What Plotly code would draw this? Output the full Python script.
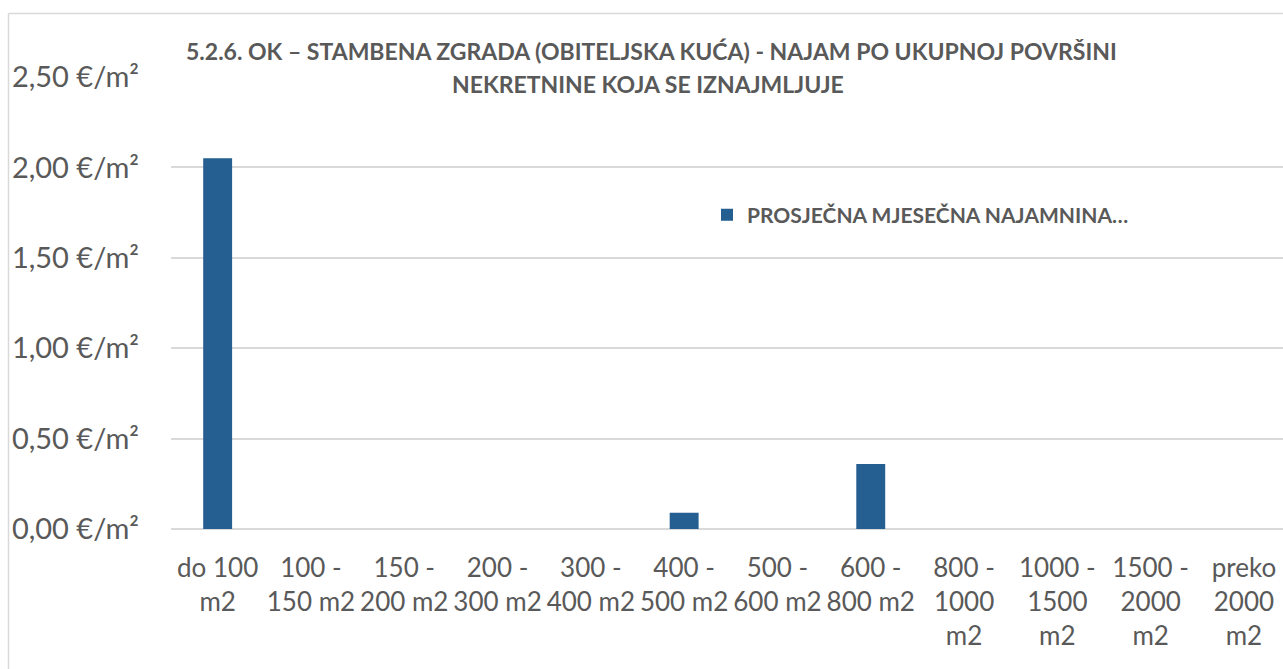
import plotly.graph_objects as go

categories = ["do 100<br>m2", "100 -<br>150 m2", "150 -<br>200 m2", "200 -<br>300 m2",
              "300 -<br>400 m2", "400 -<br>500 m2", "500 -<br>600 m2", "600 -<br>800 m2",
              "800 -<br>1000<br>m2", "1000 -<br>1500<br>m2", "1500 -<br>2000<br>m2",
              "preko<br>2000<br>m2"]
values = [2.05, 0, 0, 0, 0, 0.09, 0, 0.36, 0, 0, 0, 0]
series_name = "PROSJEČNA MJESEČNA NAJAMNINA…"
y_ticks = [0, 0.5, 1.0, 1.5, 2.0, 2.5]
y_tick_labels = ["0,00 €/m²", "0,50 €/m²", "1,00 €/m²", "1,50 €/m²", "2,00 €/m²", "2,50 €/m²"]
title_line1 = "5.2.6. OK – STAMBENA ZGRADA (OBITELJSKA KUĆA) - NAJAM PO UKUPNOJ POVRŠINI"
title_line2 = "NEKRETNINE KOJA SE IZNAJMLJUJE"

W, H = 1283, 669
L, R, T, B = 171, 0, 77, 140
PW = W - L - R
PH = H - T - B

def px_x(px):
    return (px - L) / PW

def px_y(py):
    return (H - B - py) / PH

TXT = "#595959"
GRID = "#D9D9D9"

fig = go.Figure()
fig.add_trace(go.Bar(
    x=list(range(len(categories))), y=values, name=series_name,
    marker=dict(color="#255E91", line=dict(width=0)),
    showlegend=True,
))

fig.update_layout(
    width=W, height=H,
    margin=dict(l=L, r=R, t=T, b=B, pad=0),
    paper_bgcolor="white", plot_bgcolor="white",
    bargap=0.69,
    font=dict(family="Lato", color=TXT),
    showlegend=True,
    legend=dict(
        x=px_x(707), y=px_y(215), xanchor="left", yanchor="middle",
        font=dict(family="Lato", size=21, color=TXT, weight="bold"),
        bgcolor="rgba(0,0,0,0)", borderwidth=0,
    ),
    xaxis=dict(
        tickmode="array", tickvals=list(range(len(categories))), ticktext=categories,
        range=[-0.5, 11.5 - (1290.6 - W) / 93.3],
        showgrid=False, zeroline=False, showline=False, ticks="",
        tickfont=dict(family="Lato", size=26, color=TXT),
        ticklabelstandoff=21, tickangle=0,
    ),
    yaxis=dict(
        range=[0, 2.5], tickmode="array", tickvals=y_ticks, ticktext=y_tick_labels,
        showgrid=True, gridcolor=GRID, gridwidth=1.5,
        zeroline=True, zerolinecolor=GRID, zerolinewidth=1.5,
        showline=False, ticks="",
        tickfont=dict(family="Lato", size=29, color=TXT),
        ticklabelstandoff=31,
    ),
    annotations=[
        dict(text="<b>" + title_line1 + "</b>", xref="paper", yref="paper",
             x=px_x(651), y=px_y(51), xanchor="center", yanchor="middle",
             showarrow=False, font=dict(family="Lato", size=23, color=TXT)),
        dict(text="<b>" + title_line2 + "</b>", xref="paper", yref="paper",
             x=px_x(648), y=px_y(84), xanchor="center", yanchor="middle",
             showarrow=False, font=dict(family="Lato", size=23, color=TXT)),
    ],
    shapes=[
        dict(type="line", xref="paper", yref="paper",
             x0=px_x(8.5), x1=px_x(W + 5), y0=px_y(13.5), y1=px_y(13.5),
             line=dict(color=GRID, width=1.5)),
        dict(type="line", xref="paper", yref="paper",
             x0=px_x(8.5), x1=px_x(8.5), y0=px_y(13.5), y1=px_y(H + 5),
             line=dict(color=GRID, width=1.5)),
    ],
)

fig.write_html(
    "out.html",
    config={"displayModeBar": False},
    post_script="document.body.style.margin='0';document.body.style.overflow='hidden';",
)
